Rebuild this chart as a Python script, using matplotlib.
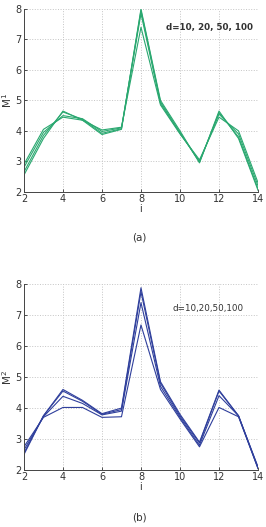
import matplotlib.pyplot as plt

i_vals = list(range(2, 15))

# M^1 for d = 10, 20, 50, 100
m1_d10 = [2.90, 4.05, 4.45, 4.35, 4.03, 4.12, 7.40, 4.85, 3.90, 3.05, 4.45, 4.00, 2.30]
m1_d20 = [2.80, 3.95, 4.50, 4.40, 3.98, 4.10, 7.85, 4.90, 3.92, 3.00, 4.55, 3.90, 2.20]
m1_d50 = [2.65, 3.85, 4.62, 4.38, 3.92, 4.07, 7.95, 4.95, 3.95, 2.97, 4.60, 3.80, 2.10]
m1_d100 = [2.55, 3.75, 4.65, 4.35, 3.88, 4.05, 8.00, 5.00, 4.00, 2.95, 4.65, 3.75, 2.05]

# M^2 for d = 10, 20, 50, 100
m2_d10 = [2.75, 3.70, 4.02, 4.02, 3.70, 3.72, 6.68, 4.60, 3.65, 2.75, 4.02, 3.72, 2.05]
m2_d20 = [2.65, 3.72, 4.38, 4.15, 3.78, 3.90, 7.40, 4.70, 3.70, 2.80, 4.40, 3.75, 2.05]
m2_d50 = [2.55, 3.75, 4.55, 4.22, 3.80, 3.95, 7.75, 4.80, 3.75, 2.87, 4.55, 3.75, 2.08]
m2_d100 = [2.50, 3.75, 4.60, 4.25, 3.82, 4.00, 7.88, 4.85, 3.80, 2.90, 4.58, 3.75, 2.10]

green = '#2aa870'
blue = '#2f3f9c'

fig = plt.figure(figsize=(2.66, 5.27), dpi=100)
ax1 = fig.add_axes([0.090, 0.636, 0.880, 0.347])
ax2 = fig.add_axes([0.090, 0.108, 0.880, 0.353])


def style(ax, ylab):
    ax.set_xlim(2, 14)
    ax.set_ylim(2, 8)
    ax.set_xticks([2, 4, 6, 8, 10, 12, 14])
    ax.set_yticks([2, 3, 4, 5, 6, 7, 8])
    ax.grid(True, linestyle=':', color='#c4c4c4', linewidth=0.7)
    ax.tick_params(labelsize=7, length=2, width=0.6, colors='#333333', pad=1.5, direction='in')
    for s in ['top', 'right']:
        ax.spines[s].set_visible(False)
    for s in ['left', 'bottom']:
        ax.spines[s].set_color('#444444')
        ax.spines[s].set_linewidth(0.7)
    ax.set_xlabel('i', fontsize=7, labelpad=0, color='#333333')
    ax.set_ylabel(ylab, fontsize=7.5, labelpad=1, color='#333333')


for ys in [m1_d10, m1_d20, m1_d50, m1_d100]:
    ax1.plot(i_vals, ys, color=green, linewidth=0.8)
style(ax1, r'M$^1$')
ax1.text(9.3, 7.38, 'd=10, 20, 50, 100', fontsize=6.3, fontweight='bold', color='#333333', va='center')
fig.text(0.525, 0.55, '(a)', fontsize=7.5, ha='center', va='center', color='#333333')

for ys in [m2_d10, m2_d20, m2_d50, m2_d100]:
    ax2.plot(i_vals, ys, color=blue, linewidth=0.8)
style(ax2, r'M$^2$')
ax2.text(9.6, 7.2, 'd=10,20,50,100', fontsize=6.3, color='#333333', va='center')
fig.text(0.525, 0.008, '(b)', fontsize=7.5, ha='center', va='bottom', color='#333333')

fig.savefig('out.png', dpi=100)
